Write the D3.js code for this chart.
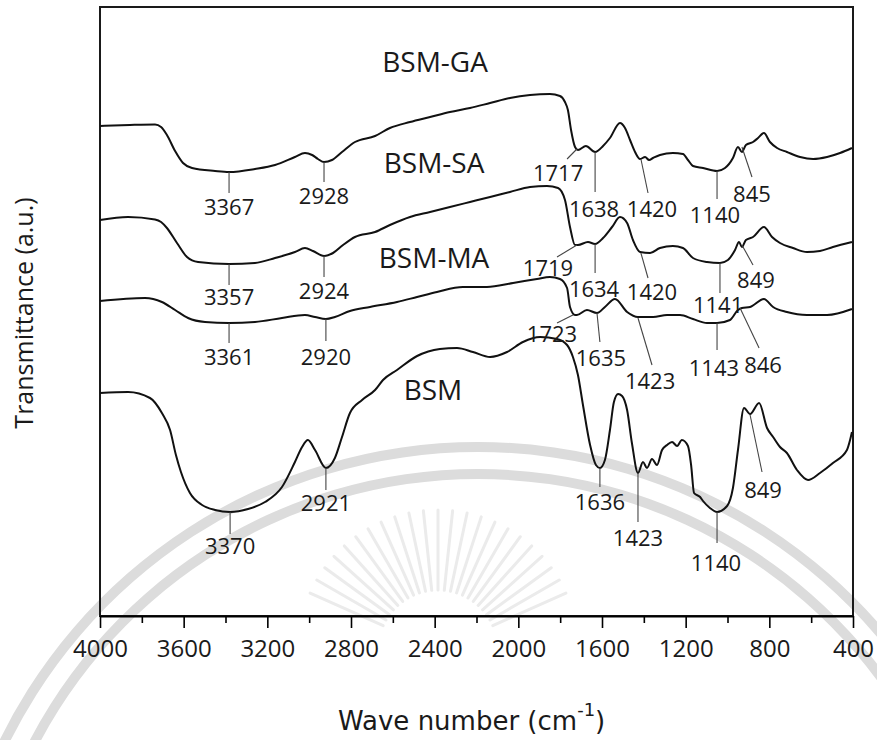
<!DOCTYPE html>
<html>
<head>
<meta charset="utf-8">
<script src="https://cdn.jsdelivr.net/npm/d3@7"></script>
<style>
  body { margin: 0; background: #fff; }
  text { font-family: "Open Sans", "Noto Sans", sans-serif; fill: #1a1a1a; }
</style>
</head>
<body>
<script>
// FTIR spectra: [wave number (cm-1), transmittance (a.u.)]
var bsmGA = [[4000,98.0],[3857,98.2],[3737,98.3],[3708,97.8],[3680,96.2],[3641,93.0],[3603,90.6],[3560,89.6],[3450,89.0],[3383,88.8],[3259,89.4],[3163,90.2],[3068,91.8],[3020,92.6],[2986,92.2],[2958,91.4],[2929,90.8],[2891,91.2],[2843,92.8],[2781,94.8],[2685,96.0],[2614,97.6],[2518,98.8],[2422,99.8],[2327,100.8],[2231,101.6],[2135,102.6],[2040,103.6],[1944,104.2],[1849,104.4],[1801,104.0],[1777,102.8],[1763,101.2],[1748,97.2],[1729,93.8],[1715,93.2],[1677,94.0],[1633,92.8],[1595,94.0],[1562,95.6],[1514,98.6],[1490,97.6],[1466,95.2],[1442,92.8],[1418,91.4],[1394,91.8],[1375,91.2],[1356,91.6],[1323,92.2],[1261,92.6],[1213,92.4],[1189,91.2],[1165,90.0],[1117,89.6],[1050,89.0],[1012,89.6],[974,91.6],[950,93.8],[931,92.8],[912,94.2],[878,94.8],[854,95.6],[826,96.6],[797,94.8],[763,93.6],[716,92.8],[653,91.8],[591,91.4],[524,91.8],[462,92.6],[405,93.6]];
var bsmSA = [[4000,79.2],[3866,79.8],[3737,79.3],[3708,78.8],[3680,77.6],[3632,74.6],[3584,71.8],[3531,70.8],[3383,70.4],[3259,70.6],[3163,71.6],[3068,72.8],[3020,73.6],[2982,73.0],[2929,72.0],[2886,72.6],[2838,74.2],[2781,75.8],[2685,76.8],[2614,78.2],[2518,79.8],[2422,80.8],[2327,81.8],[2231,82.8],[2135,83.8],[2040,84.8],[1944,85.8],[1863,86.0],[1810,85.6],[1777,83.2],[1753,77.8],[1729,74.2],[1715,74.2],[1667,74.8],[1633,74.4],[1595,75.6],[1552,77.8],[1514,79.8],[1480,78.6],[1452,75.2],[1418,72.8],[1370,72.6],[1323,73.6],[1261,74.0],[1213,73.6],[1165,71.6],[1098,70.8],[1036,70.6],[998,71.2],[964,73.2],[945,74.8],[931,73.8],[912,75.2],[878,75.8],[826,77.8],[787,75.8],[749,74.6],[687,73.6],[620,72.8],[558,73.0],[496,73.8],[405,74.8]];
var bsmMA = [[4000,63.0],[3785,63.6],[3704,62.8],[3641,61.2],[3579,59.6],[3498,58.8],[3383,58.6],[3259,58.8],[3130,59.6],[3020,60.2],[2972,59.8],[2920,59.4],[2877,59.8],[2805,61.0],[2709,61.8],[2580,62.8],[2484,63.8],[2389,64.8],[2265,65.8],[2150,65.8],[2025,66.6],[1911,67.4],[1849,67.8],[1801,67.4],[1767,65.6],[1753,61.8],[1729,60.2],[1720,60.2],[1672,61.2],[1624,60.6],[1586,61.8],[1538,63.4],[1480,60.8],[1428,59.8],[1356,59.8],[1289,60.2],[1227,60.2],[1165,59.4],[1098,58.6],[1050,58.6],[988,59.2],[950,61.2],[931,61.6],[892,61.8],[826,63.4],[782,61.8],[716,60.8],[620,60.2],[524,60.2],[405,61.4]];
var bsm = [[4000,44.6],[3866,44.8],[3761,43.6],[3704,40.6],[3665,37.2],[3637,32.2],[3613,28.8],[3570,24.6],[3512,22.2],[3450,21.2],[3378,20.8],[3292,21.4],[3211,22.8],[3130,25.8],[3068,30.8],[3034,33.8],[3006,35.2],[2972,33.2],[2920,29.6],[2877,31.6],[2843,35.8],[2805,40.6],[2747,43.2],[2685,45.2],[2647,47.2],[2580,49.2],[2484,52.0],[2375,53.4],[2293,53.6],[2217,52.8],[2135,51.8],[2054,52.8],[1978,54.8],[1896,55.8],[1815,55.4],[1767,54.2],[1739,51.8],[1715,48.2],[1691,42.2],[1657,34.2],[1629,30.2],[1610,29.6],[1586,31.2],[1562,37.2],[1543,42.8],[1523,44.4],[1504,44.0],[1480,41.2],[1457,34.6],[1428,28.6],[1404,30.8],[1385,29.6],[1361,31.4],[1337,30.2],[1313,33.2],[1289,34.2],[1265,34.8],[1241,34.0],[1218,35.2],[1189,34.0],[1174,30.2],[1160,24.6],[1131,23.8],[1117,23.0],[1084,21.6],[1050,20.8],[1002,22.0],[974,25.6],[950,33.2],[921,41.6],[892,40.4],[849,42.6],[811,37.6],[782,35.8],[749,33.8],[716,32.6],[668,29.2],[615,27.2],[558,28.6],[496,30.6],[429,33.2],[414,35.2],[405,36.8]];

var seriesData = [bsmGA, bsmSA, bsmMA, bsm];
var seriesNames = ["BSM-GA", "BSM-SA", "BSM-MA", "BSM"];
var nameAt = [[2398,110.8],[2403,90.6],[2403,71.6],[2408,45.2]];

// peak labels: text, point on curve, end of leader, label centre
var peakText = ["3367","2928","1717","1638","1420","1140","845",
                "3357","2924","1719","1634","1420","1141","849",
                "3361","2920","1723","1635","1423","1143","846",
                "3370","2921","1636","1423","1140","849"];
var peakAt = [[3383,88.8],[2929,90.8],[1720,93.4],[1633,92.8],[1414,91.4],[1050,89.0],[931,93.8],
              [3383,70.4],[2929,72.0],[1720,74.2],[1633,74.4],[1414,72.6],[1036,70.6],[931,74.2],
              [3383,58.6],[2920,59.4],[1739,60.2],[1624,60.6],[1428,59.6],[1050,58.6],[940,61.6],
              [3378,20.8],[2920,29.6],[1610,29.6],[1428,28.6],[1050,20.8],[892,40.2]];
var peakEnd = [[3383,84.6],[2929,86.8],[1767,91.4],[1633,84.8],[1380,84.6],[1050,83.4],[883,87.8],
               [3383,66.2],[2929,67.8],[1815,71.8],[1633,68.6],[1380,67.6],[1036,64.6],[878,70.2],
               [3383,54.6],[2920,55.0],[1815,58.6],[1610,54.8],[1361,50.2],[1050,53.2],[849,53.6],
               [3378,16.4],[2920,25.2],[1610,25.8],[1428,18.8],[1050,14.6],[835,28.8]];
var peakLabel = [[3383,81.8],[2929,84.0],[1810,88.6],[1638,81.4],[1361,81.4],[1060,80.2],[883,84.4],
                 [3383,63.8],[2929,65.0],[1858,69.6],[1638,65.4],[1361,64.8],[1045,62.2],[864,67.2],
                 [3383,51.8],[2920,51.8],[1839,56.4],[1605,51.6],[1370,47.0],[1065,49.6],[830,50.2],
                 [3378,14.0],[2920,22.6],[1610,22.8],[1428,15.6],[1055,10.6],[830,25.2]];

var majorTicks = [4000,3600,3200,2800,2400,2000,1600,1200,800,400];
var minorTicks = [3800,3400,3000,2600,2200,1800,1400,1000,600];

var w = 877, h = 740;
var padL = 100, padR = 853, padT = 7, padB = 616;

var svg = d3.select("body").append("svg")
    .attr("width", w)
    .attr("height", h);

// faint seal watermark behind the plot
var wm = svg.append("g").attr("class", "watermark");
[528, 501].forEach(function(r) {
  wm.append("path")
    .attr("transform", "translate(478,975)")
    .attr("d", d3.arc().innerRadius(r - 5).outerRadius(r + 5).startAngle(-1.15).endAngle(1.15)())
    .attr("fill", "#dcdcdc");
});
d3.range(-66, 67, 6).forEach(function(a) {
  var t = a * Math.PI / 180;
  wm.append("line")
    .attr("x1", 438 + 60 * Math.sin(t)).attr("y1", 650 - 60 * Math.cos(t))
    .attr("x2", 438 + 140 * Math.sin(t)).attr("y2", 650 - 140 * Math.cos(t))
    .attr("stroke", "#ebebeb").attr("stroke-width", 3).attr("stroke-linecap", "round");
});

var x = d3.scaleLinear().domain([4000, 400]).range([padL, padR]);
var y = d3.scaleLinear().domain([0, 121.8]).range([padB, padT]);

// frame
svg.append("rect")
    .attr("x", padL).attr("y", padT)
    .attr("width", padR - padL).attr("height", padB - padT)
    .attr("fill", "none").attr("stroke", "#1a1a1a").attr("stroke-width", 2);

// x axis, major and minor ticks pointing down
var axisG = svg.append("g")
    .attr("transform", "translate(0," + padB + ")")
    .call(d3.axisBottom(x).tickValues(majorTicks).tickSize(12).tickSizeOuter(0)
          .tickPadding(12).tickFormat(d3.format("d")));
axisG.select(".domain").attr("stroke-width", 2);
axisG.selectAll(".tick line").attr("stroke-width", 1.6);
axisG.selectAll("text").attr("font-size", 24).attr("fill", "#1a1a1a");

var minorG = svg.append("g")
    .attr("transform", "translate(0," + padB + ")")
    .call(d3.axisBottom(x).tickValues(minorTicks).tickSize(7).tickFormat(""));
minorG.select(".domain").remove();
minorG.selectAll(".tick line").attr("stroke-width", 1.6);

// spectra
var line = d3.line()
    .x(function(d) { return x(d[0]); })
    .y(function(d) { return y(d[1]); })
    .curve(d3.curveMonotoneX);

svg.selectAll("path.spectrum")
   .data(seriesData)
   .enter()
   .append("path")
   .attr("class", "spectrum")
   .attr("d", line)
   .attr("fill", "none")
   .attr("stroke", "#111")
   .attr("stroke-width", 2)
   .attr("stroke-linejoin", "round");

// series names
svg.selectAll("text.name")
   .data(seriesNames)
   .enter()
   .append("text")
   .attr("class", "name")
   .attr("x", function(d, i) { return x(nameAt[i][0]); })
   .attr("y", function(d, i) { return y(nameAt[i][1]); })
   .attr("dy", "0.35em")
   .attr("text-anchor", "middle")
   .attr("font-size", 28)
   .text(function(d) { return d; });

// peak leaders and labels
svg.selectAll("line.leader")
   .data(peakText)
   .enter()
   .append("line")
   .attr("class", "leader")
   .attr("x1", function(d, i) { return x(peakAt[i][0]); })
   .attr("y1", function(d, i) { return y(peakAt[i][1]); })
   .attr("x2", function(d, i) { return x(peakEnd[i][0]); })
   .attr("y2", function(d, i) { return y(peakEnd[i][1]); })
   .attr("stroke", "#444")
   .attr("stroke-width", 1.1);

svg.selectAll("text.peak")
   .data(peakText)
   .enter()
   .append("text")
   .attr("class", "peak")
   .attr("x", function(d, i) { return x(peakLabel[i][0]); })
   .attr("y", function(d, i) { return y(peakLabel[i][1]); })
   .attr("dy", "0.35em")
   .attr("text-anchor", "middle")
   .attr("font-size", 22)
   .text(function(d) { return d; });

// axis titles
var xt = svg.append("text")
    .attr("x", 338).attr("y", 730)
    .style("font-family", "'DejaVu Sans', sans-serif")
    .attr("font-size", 26);
xt.append("tspan").text("Wave number (cm");
xt.append("tspan").attr("font-size", 18).attr("dy", -14).text("-1");
xt.append("tspan").attr("dy", 14).text(")");

svg.append("text")
    .attr("transform", "translate(33,313) rotate(-90)")
    .attr("text-anchor", "middle")
    .attr("font-size", 25)
    .text("Transmittance (a.u.)");
</script>
</body>
</html>
